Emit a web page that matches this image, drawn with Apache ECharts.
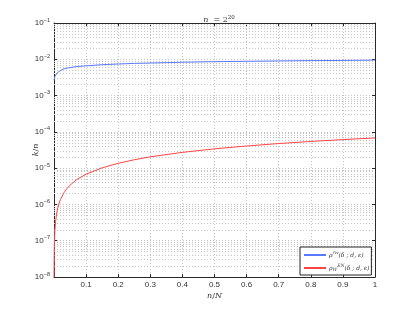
<!DOCTYPE html>
<html>
<head>
<meta charset="utf-8">
<script src="https://cdn.jsdelivr.net/npm/echarts@6/dist/echarts.min.js"></script>
<style>
html,body{margin:0;padding:0;background:#fff;}
#chart{width:415px;height:312px;}
</style>
</head>
<body>
<div id="chart"></div>
<script>
// x positions (n/N) and series values
var blueX = [0, 0.003, 0.006, 0.01, 0.015, 0.02, 0.03, 0.04, 0.05, 0.07, 0.1, 0.15, 0.2, 0.25, 0.3, 0.4, 0.5, 0.6, 0.7, 0.8, 0.9, 1.0];
var blueY = [0.0027, 0.0034, 0.0038, 0.0042, 0.0046, 0.0049, 0.0054, 0.0057, 0.0059, 0.0063, 0.0066, 0.0071, 0.0074, 0.0077, 0.0079, 0.0083, 0.0086, 0.0088, 0.0090, 0.0092, 0.0093, 0.0095];
var redX = [0.00015, 0.0003, 0.0006, 0.001, 0.002, 0.003, 0.005, 0.0075, 0.01, 0.015, 0.02, 0.03, 0.04, 0.05, 0.07, 0.1, 0.15, 0.2, 0.25, 0.3, 0.4, 0.5, 0.6, 0.7, 0.8, 0.9, 1.0];
var redY = [1.0e-8, 2.0e-8, 4.1e-8, 6.8e-8, 1.36e-7, 2.05e-7, 3.4e-7, 5.1e-7, 6.8e-7, 1.02e-6, 1.36e-6, 2.04e-6, 2.72e-6, 3.4e-6, 4.8e-6, 6.8e-6, 1.02e-5, 1.36e-5, 1.7e-5, 2.05e-5, 2.72e-5, 3.4e-5, 4.08e-5, 4.76e-5, 5.44e-5, 6.12e-5, 6.8e-5];
var xTickLabels = ['', '0.1', '0.2', '0.3', '0.4', '0.5', '0.6', '0.7', '0.8', '0.9', '1'];
var yDecades = [-8, -7, -6, -5, -4, -3, -2, -1];
var seriesNames = ['blue', 'red'];

var minorVals = [];
for (var i = 0; i < yDecades.length - 1; i++) {
  for (var m = 2; m <= 9; m++) minorVals.push(m * Math.pow(10, yDecades[i]));
}

function pairs(xs, ys) { return xs.map(function (x, i) { return [x, ys[i]]; }); }

var gridColor = '#c4c4c4';
var axisColor = '#2a2a2a';
var serif = 'DejaVu Serif';

var chart = echarts.init(document.getElementById('chart'), null, {renderer: 'canvas'});
chart.setOption({
  animation: false,
  backgroundColor: '#fff',
  title: {
    text: '{i|n} {r|= 2}{s|20}',
    left: 214, top: 6, textAlign: 'center',
    textStyle: {
      fontWeight: 'normal',
      rich: {
        i: {fontFamily: serif, fontStyle: 'italic', fontWeight: 'normal', fontSize: 8, color: '#333'},
        r: {fontFamily: serif, fontWeight: 'normal', fontSize: 8, color: '#333'},
        s: {fontFamily: serif, fontWeight: 'normal', fontSize: 5.5, color: '#333', padding: [0, 0, 5, 0]}
      }
    }
  },
  grid: {left: 54, right: 40, top: 23, bottom: 35},
  legend: {
    orient: 'vertical',
    left: 300, top: 247,
    backgroundColor: '#fff',
    borderColor: '#222', borderWidth: 1, borderRadius: 0,
    padding: [3, 2, 3, 4],
    itemWidth: 22, itemHeight: 2, itemGap: 5,
    icon: 'rect',
    data: seriesNames,
    formatter: function (name) {
      if (name === 'blue') return '{g|ρ}{s|rw}{g|(δ ; d, ε)}';
      return '{g|ρ}{b|W}{s|EN}{g|(δ ; d, ε)}';
    },
    textStyle: {
      fontFamily: serif, fontSize: 6, color: '#333', padding: [0, 0, 0, -2],
      rich: {
        g: {fontFamily: serif, fontStyle: 'italic', fontSize: 6, color: '#333'},
        s: {fontFamily: serif, fontStyle: 'italic', fontSize: 4.5, color: '#333', padding: [0, 0, 5, 0]},
        b: {fontFamily: serif, fontStyle: 'italic', fontSize: 4.5, color: '#333', padding: [3, 0, 0, 0]}
      }
    }
  },
  xAxis: [{
    type: 'value', min: 0, max: 1, interval: 0.1,
    name: '{i|n}{r|/}{i|N}', nameLocation: 'middle', nameGap: 15, nameMoveOverlap: false,
    nameTextStyle: {rich: {
      i: {fontFamily: serif, fontStyle: 'italic', fontSize: 8, color: '#333'},
      r: {fontFamily: serif, fontSize: 8, color: '#333'}
    }},
    axisLine: {show: true, onZero: false, lineStyle: {color: axisColor, width: 1}},
    axisTick: {show: true, inside: true, length: 3, lineStyle: {color: axisColor}},
    axisLabel: {
      fontFamily: 'Liberation Sans', fontSize: 8, color: '#333', margin: 4,
      formatter: function (v) { return xTickLabels[Math.round(v * 10)]; }
    },
    splitLine: {show: true, lineStyle: {color: gridColor, type: [1, 2], width: 1}}
  }, {
    type: 'value', min: 0, max: 1, interval: 0.1, position: 'top',
    axisLine: {show: true, onZero: false, lineStyle: {color: axisColor, width: 1}},
    axisTick: {show: true, inside: true, length: 3, lineStyle: {color: axisColor}},
    axisLabel: {show: false}, splitLine: {show: false}
  }],
  yAxis: [{
    type: 'log', logBase: 10, min: 1e-8, max: 1e-1, interval: 1,
    name: '{i|k}{r|/}{i|n}', nameLocation: 'middle', nameGap: 14, nameRotate: 90, nameMoveOverlap: false,
    nameTextStyle: {rich: {
      i: {fontFamily: serif, fontStyle: 'italic', fontSize: 8, color: '#333'},
      r: {fontFamily: serif, fontSize: 8, color: '#333'}
    }},
    axisLine: {show: true, onZero: false, lineStyle: {color: axisColor, width: 1}},
    axisTick: {show: true, inside: true, length: 3, lineStyle: {color: axisColor}},
    minorTick: {show: false},
    axisLabel: {
      margin: 4,
      formatter: function (v) {
        var e = Math.round(Math.log10(v));
        return '{b|10}{e|' + (e < 0 ? '−' : '') + Math.abs(e) + '}';
      },
      rich: {
        b: {fontFamily: 'Liberation Sans', fontSize: 8, color: '#333'},
        e: {fontFamily: 'Liberation Sans', fontSize: 5.5, color: '#333', padding: [0, 0, 6, 0]}
      }
    },
    splitLine: {show: true, lineStyle: {color: gridColor, type: [1, 2], width: 1}}
  }, {
    type: 'log', logBase: 10, min: 1e-8, max: 1e-1, interval: 1, position: 'right',
    axisLine: {show: true, onZero: false, lineStyle: {color: axisColor, width: 1}},
    axisTick: {show: true, inside: true, length: 3, lineStyle: {color: axisColor}},
    axisLabel: {show: false}, splitLine: {show: false}
  }],
  series: [{
    name: 'blue', type: 'line', showSymbol: false, symbol: 'none',
    data: pairs(blueX, blueY),
    lineStyle: {color: '#5a78ff', width: 1}, itemStyle: {color: '#5a78ff'},
    z: 3,
    markLine: {
      silent: true, symbol: ['none', 'none'], label: {show: false},
      precision: 12,
      lineStyle: {color: gridColor, type: [1, 2], width: 1},
      emphasis: {disabled: true},
      data: minorVals.map(function (v) { return {yAxis: v}; }),
      z: 1
    }
  }, {
    name: 'red', type: 'line', showSymbol: false, symbol: 'none',
    data: pairs(redX, redY),
    lineStyle: {color: '#ff4444', width: 1}, itemStyle: {color: '#ff4444'},
    z: 3
  }]
});
</script>
</body>
</html>
